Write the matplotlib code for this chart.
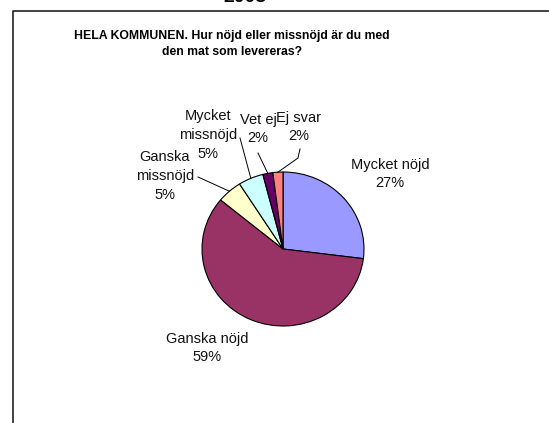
"""HELA KOMMUNEN: satisfaction with delivered food, pie chart."""

import matplotlib

matplotlib.use("Agg")
import matplotlib.pyplot as plt
import numpy as np
from matplotlib.lines import Line2D

W, H = 549, 423

labels = [
    "Mycket nöjd",
    "Ganska nöjd",
    "Ganska\nmissnöjd",
    "Mycket\nmissnöjd",
    "Vet ej",
    "Ej svar",
]
shares = [27, 59, 5, 5, 2, 2]
colors = ["#9999FF", "#993366", "#FFFFCC", "#CCFFFF", "#660066", "#FF8080"]

# label block centres in image pixels (x, y from top)
label_pos = [(390, 174), (207, 348), (165, 176), (208, 135), (258, 129), (299, 127)]
# start of leader line (None = no leader)
leader_from = [None, None, [(198, 177)], [(240, 138)], [(258, 153)], [(300, 149), (298, 158)]]


def fx(x):
    return x / W


def fy(y):
    return 1 - y / H


def main():
    plt.rcParams["font.family"] = ["Liberation Sans", "DejaVu Sans"]
    fig = plt.figure(figsize=(W / 100, H / 100), dpi=100)

    # pie axes: centre (283, 249), radii 81 x 77 px
    cx, cy, rx, ry = 283, 249, 81, 77
    ax = fig.add_axes([fx(cx - rx), fy(cy + ry), 2 * rx / W, 2 * ry / H])
    wedges, _ = ax.pie(
        shares,
        colors=colors,
        startangle=90,
        counterclock=False,
        wedgeprops=dict(edgecolor="black", linewidth=0.8),
    )
    ax.set_aspect("auto")
    ax.set_xlim(-1, 1)
    ax.set_ylim(-1, 1)

    # frame of the chart area
    fig.add_artist(Line2D([fx(13), fx(13), 1], [0, fy(11.5), fy(11.5)],
                          transform=fig.transFigure, color="#222222", linewidth=1.2))

    # year heading, cut off at the top edge as in the original
    fig.text(fx(245), fy(5.5), "2008", ha="center", va="bottom",
             fontsize=14, fontweight="bold")
    fig.text(fx(232), fy(44), "HELA KOMMUNEN. Hur nöjd eller missnöjd är du med\nden mat som levereras?",
             ha="center", va="center", fontsize=8.8, fontweight="bold",
             linespacing=1.4)

    for i, w in enumerate(wedges):
        pct = f"{shares[i]}%"
        if i == 3:
            text = f"{labels[i]}\n{pct}"
        else:
            text = f"{labels[i]}\n{pct}"
        x, y = label_pos[i]
        fig.text(fx(x), fy(y), text, ha="center", va="center",
                 fontsize=10.5, linespacing=1.45, color="#111111")
        if leader_from[i] is not None:
            mid = np.deg2rad((w.theta1 + w.theta2) / 2)
            ex, ey = ax.transData.transform((np.cos(mid), np.sin(mid)))
            pts = [(fx(px), fy(py)) for px, py in leader_from[i]]
            pts.append((ex / W, ey / H))
            xs, ys = zip(*pts)
            fig.add_artist(Line2D(xs, ys, transform=fig.transFigure,
                                  color="black", linewidth=0.7))

    fig.savefig("out.png", dpi=100)


if __name__ == "__main__":
    main()
